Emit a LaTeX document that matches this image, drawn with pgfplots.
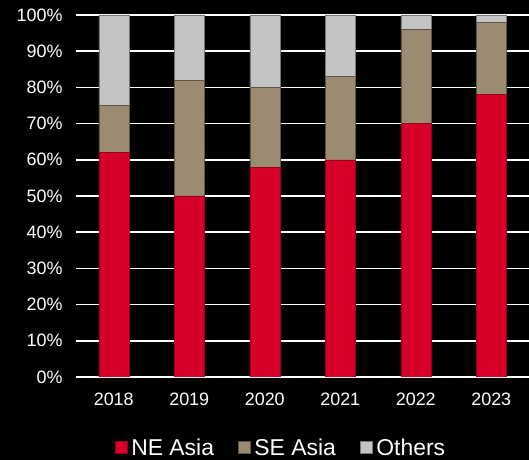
\documentclass[border=0pt]{standalone}
\usepackage{pgfplots}
\pgfplotsset{compat=1.18}
\usepackage{fontspec}
\setmainfont{Liberation Sans}
\definecolor{ne}{RGB}{215,0,42}
\definecolor{se}{RGB}{156,139,115}
\definecolor{ot}{RGB}{196,196,196}
\begin{document}
\begin{tikzpicture}[x=1bp,y=1bp]
\fill[black] (0,0) rectangle (529,460);
\begin{axis}[
  at={(76bp,83bp)}, anchor=south west,
  scale only axis, width=453bp, height=362bp,
  ybar stacked, bar width=30bp,
  xmin=-0.5, xmax=5.5, ymin=0, ymax=100,
  xtick={0,1,2,3,4,5},
  xticklabels={2018,2019,2020,2021,2022,2023},
  ytick={0,10,...,100},
  yticklabel={\pgfmathprintnumber{\tick}\%},
  /pgf/number format/assume math mode=true,
  ymajorgrids, grid style={white, line width=1.5bp},
  axis x line*=bottom, axis y line*=left,
  x axis line style={white, line width=1.5bp, -},
  y axis line style={draw=none},
  major tick length=0pt,
  ticklabel style={white, font=\fontsize{18}{21}\selectfont},
  yticklabel style={xshift=-10bp},
  xticklabel style={yshift=-12bp},
  legend columns=3,
  legend style={at={(0.4525,-0.195)}, anchor=center, draw=none, fill=black,
    text=white, font=\fontsize{23}{27}\selectfont,
    /tikz/every even column/.append style={column sep=22bp},
    /tikz/every odd column/.append style={column sep=2bp}},
  legend image code/.code={\fill[#1] (0bp,-6bp) rectangle (12bp,6bp);},
]
\addplot[fill=ne, draw=ne!70!black, line width=0.4bp] coordinates {(0,62) (1,50) (2,58) (3,60) (4,70) (5,78)};
\addplot[fill=se, draw=se!60!black, line width=0.4bp] coordinates {(0,13) (1,32) (2,22) (3,23) (4,26) (5,20)};
\addplot[fill=ot, draw=ot!60!black, line width=0.4bp] coordinates {(0,25) (1,18) (2,20) (3,17) (4,4) (5,2)};
\legend{NE Asia, SE Asia, Others}
\end{axis}
\pgfresetboundingbox
\path (0,0) rectangle (529,460);
\end{tikzpicture}
\end{document}
